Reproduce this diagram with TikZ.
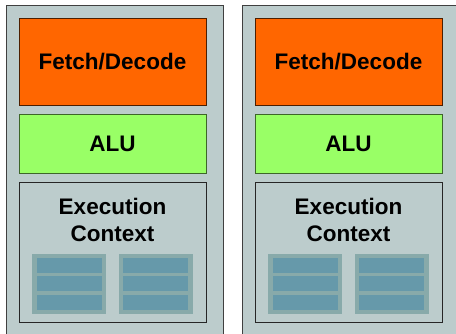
\documentclass[tikz,border=0pt]{standalone}
\usepackage{fontspec}
\setmainfont{Liberation Sans}
\usetikzlibrary{positioning}

\definecolor{coregray}{HTML}{BCCCCC}
\definecolor{fetchorange}{HTML}{FF6600}
\definecolor{alugreen}{HTML}{99FF66}
\definecolor{regouter}{HTML}{88AAAA}
\definecolor{reginner}{HTML}{6699AA}

\begin{document}
\begin{tikzpicture}[x=1pt, y=1pt,
    unitfont/.style={font=\fontsize{22.5}{27}\selectfont\bfseries},
    unitbox/.style={draw, line width=0.8pt, inner sep=0pt, minimum width=187pt, unitfont},
    fdbox/.style={unitbox, fill=fetchorange, draw=black!70!fetchorange, minimum height=87pt},
    alubox/.style={unitbox, fill=alugreen, draw=black!60!alugreen, minimum height=59pt},
    ctxbox/.style={unitbox, fill=coregray, draw=black!85, minimum height=140pt},
    regblock/.style={fill=regouter, inner sep=0pt, minimum width=74pt, minimum height=60pt},
    regrow/.style={fill=reginner, inner sep=0pt, minimum width=65pt, minimum height=15pt}]
    \useasboundingbox (0,0) rectangle (456,334);
    % two cores, the second one runs off the right edge
    \foreach \k/\dx in {1/0, 2/236} {
      \fill[coregray, draw=black!75, line width=0.8pt] (\dx+6,-10) rectangle (\dx+223,329);
      \node[fdbox] (fd\k) at (\dx+112.5, 272.5) {Fetch/Decode};
      \node[alubox] (alu\k) at (\dx+112.5, 190.5) {ALU};
      \node[ctxbox] (ctx\k) at (\dx+112.5, 82) {};
      \node[unitfont, align=center, inner sep=0pt]
        (ctxlbl\k) at (\dx+112.5, 114) {Execution\\Context};
      % register blocks
      \foreach \j/\cx in {a/69, b/155.5} {
        \node[regblock] (reg\k\j) at (\dx+\cx, 50) {};
        \foreach \r/\cy in {1/68.5, 2/50, 3/31.5} {
          \node[regrow] (reg\k\j\r) at (\dx+\cx, \cy) {};
        }
      }
    }
  \end{tikzpicture}
\end{document}
